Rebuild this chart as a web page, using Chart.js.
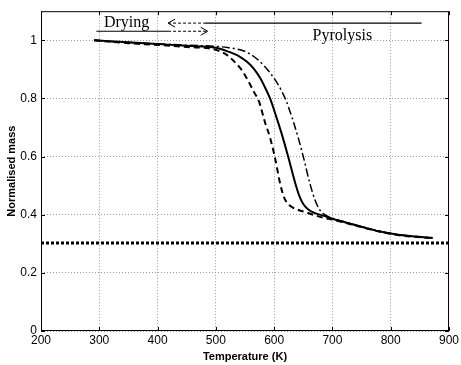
<!DOCTYPE html>
<html>
<head>
<meta charset="utf-8">
<script src="https://cdn.jsdelivr.net/npm/chart.js@4.4.0/dist/chart.umd.min.js"></script>
<style>
  html, body { margin: 0; padding: 0; background: #fff; overflow: hidden; }
  #wrap { width: 461px; height: 365px; }
</style>
</head>
<body>
<div id="wrap"><canvas id="grafico"></canvas></div>
<script>
// Curva central (linha cheia)
const solidT = [291, 350, 400, 450, 500, 520, 540, 554, 566, 576, 585, 593, 604, 613, 624, 636, 643, 650, 658, 668, 684, 700, 720, 740, 760, 780, 800, 820, 840, 860, 872];
const solidMass = [1.0, 0.993, 0.987, 0.981, 0.974, 0.962, 0.945, 0.925, 0.9, 0.87, 0.835, 0.8, 0.735, 0.678, 0.6, 0.51, 0.466, 0.437, 0.419, 0.407, 0.397, 0.386, 0.375, 0.364, 0.353, 0.343, 0.335, 0.329, 0.325, 0.322, 0.32];

// Curva tracejada (esquerda)
const dashedT = [291, 350, 400, 450, 500, 520, 530, 542, 550, 559, 566, 574, 584, 593, 601, 610, 616, 622, 630, 642, 655, 670, 684, 700, 720, 740, 760, 780, 800, 820, 840, 860, 872];
const dashedMass = [1.0, 0.99, 0.984, 0.977, 0.967, 0.948, 0.93, 0.904, 0.88, 0.847, 0.82, 0.79, 0.72, 0.665, 0.6, 0.51, 0.465, 0.441, 0.427, 0.416, 0.408, 0.398, 0.39, 0.383, 0.373, 0.363, 0.352, 0.342, 0.334, 0.328, 0.324, 0.321, 0.319];

// Curva traço-ponto (direita)
const dashDotT = [291, 350, 400, 450, 500, 520, 540, 554, 568, 582, 593, 604, 613, 621, 627, 633, 642, 650, 661, 669, 676, 684, 700, 720, 740, 760, 780, 800, 820, 840, 860, 872];
const dashDotMass = [1.0, 0.992, 0.988, 0.983, 0.979, 0.975, 0.968, 0.958, 0.94, 0.914, 0.888, 0.857, 0.825, 0.79, 0.756, 0.72, 0.66, 0.6, 0.51, 0.457, 0.424, 0.404, 0.388, 0.376, 0.365, 0.354, 0.344, 0.336, 0.33, 0.326, 0.323, 0.321];

// Assintota pontilhada
const asymptoteT = [200, 900];
const asymptoteMass = [0.303, 0.303];

// Setas Drying / Pyrolysis
const dryingSolidT = [295, 418];
const dryingDashT = [418, 486];
const dryingLevel = 1.031;
const pyroDashT = [418, 481];
const pyroSolidT = [481, 853];
const pyroLevel = 1.059;

// Textos
const dryingLabel = { text: "Drying", t: 308, m: 1.046 };
const pyroLabel = { text: "Pyrolysis", t: 666, m: 1.002 };

// Eixos
const xTicks = [200, 300, 400, 500, 600, 700, 800, 900];
const yTicks = [0, 0.2, 0.4, 0.6, 0.8, 1];

const pares = (xs, ys) => xs.map((x, i) => ({ x: x, y: Array.isArray(ys) ? ys[i] : ys }));

function serie(data, dash, largura) {
  return {
    data: data,
    borderColor: '#000',
    borderWidth: largura,
    borderDash: dash,
    pointRadius: 0,
    fill: false,
    cubicInterpolationMode: 'monotone'
  };
}

// Moldura, ticks internos, pontas de seta e textos
const moldura = {
  id: 'moldura',
  afterDatasetsDraw(chart) {
    const { ctx, chartArea: a, scales: { x, y } } = chart;
    ctx.save();
    ctx.strokeStyle = '#000';
    ctx.lineWidth = 1;
    ctx.strokeRect(a.left + 0.5, a.top + 0.5, a.right - a.left - 1, a.bottom - a.top - 1);

    const linha = (x1, y1, x2, y2) => { ctx.beginPath(); ctx.moveTo(x1, y1); ctx.lineTo(x2, y2); ctx.stroke(); };
    xTicks.forEach(v => {
      const p = Math.round(x.getPixelForValue(v)) + 0.5;
      linha(p, a.bottom, p, a.bottom - 4);
      linha(p, a.top, p, a.top + 4);
    });
    yTicks.forEach(v => {
      const p = Math.round(y.getPixelForValue(v)) + 0.5;
      linha(a.left, p, a.left + 4, p);
      linha(a.right, p, a.right - 4, p);
    });

    // pontas das setas
    const dx = x.getPixelForValue(dryingDashT[1]);
    const dy = y.getPixelForValue(dryingLevel);
    linha(dx, dy, dx - 7, dy - 4);
    linha(dx, dy, dx - 7, dy + 4);
    const px = x.getPixelForValue(pyroDashT[0]);
    const py = y.getPixelForValue(pyroLevel);
    linha(px, py, px + 7, py - 4);
    linha(px, py, px + 7, py + 4);

    ctx.fillStyle = '#000';
    ctx.font = '16px "Liberation Serif", "Times New Roman", serif';
    ctx.textAlign = 'left';
    ctx.textBaseline = 'alphabetic';
    [dryingLabel, pyroLabel].forEach(l => {
      ctx.fillText(l.text, x.getPixelForValue(l.t), y.getPixelForValue(l.m));
    });
    ctx.restore();
  }
};

const gradeCor = '#9a9a9a';

new Chart(document.getElementById('grafico'), {
  type: 'line',
  data: {
    datasets: [
      serie(pares(solidT, solidMass), [], 2),
      serie(pares(dashedT, dashedMass), [6, 4], 2),
      serie(pares(dashDotT, dashDotMass), [8, 3, 2, 3], 1.5),
      { ...serie(pares(asymptoteT, asymptoteMass), [3, 2], 3), cubicInterpolationMode: 'default' },
      serie(pares(dryingSolidT, dryingLevel), [], 1.2),
      serie(pares(dryingDashT, dryingLevel), [3, 2], 1),
      serie(pares(pyroDashT, pyroLevel), [3, 2], 1),
      serie(pares(pyroSolidT, pyroLevel), [], 1.2)
    ]
  },
  options: {
    responsive: true,
    maintainAspectRatio: false,
    animation: false,
    layout: { padding: { top: 5, right: 6, left: 0, bottom: 0 } },
    plugins: { legend: { display: false }, tooltip: { enabled: false } },
    scales: {
      x: {
        type: 'linear',
        min: 200,
        max: 900,
        afterBuildTicks: s => { s.ticks = xTicks.map(v => ({ value: v })); },
        afterFit: s => { s.height = 34; },
        ticks: {
          color: '#000',
          padding: 2,
          maxRotation: 0,
          font: { family: '"Liberation Sans", Arial, sans-serif', size: 12 },
          callback: v => String(v)
        },
        grid: { color: gradeCor, drawTicks: false, lineWidth: 1 },
        border: { display: false, dash: [1, 2] },
        title: {
          display: true,
          text: 'Temperature (K)',
          color: '#000',
          padding: { top: 0, bottom: 1 },
          font: { family: '"Liberation Sans", Arial, sans-serif', size: 11, weight: 'bold' }
        }
      },
      y: {
        min: 0,
        max: 1.1,
        afterBuildTicks: s => { s.ticks = yTicks.map(v => ({ value: v })); },
        afterFit: s => { s.width = 41; },
        ticks: {
          color: '#000',
          padding: 4,
          font: { family: '"Liberation Sans", Arial, sans-serif', size: 12 },
          callback: v => String(Math.round(v * 10) / 10)
        },
        grid: { color: gradeCor, drawTicks: false, lineWidth: 1 },
        border: { display: false, dash: [1, 2] },
        title: {
          display: true,
          text: 'Normalised mass',
          color: '#000',
          padding: { top: 5, bottom: 0 },
          font: { family: '"Liberation Sans", Arial, sans-serif', size: 11, weight: 'bold' }
        }
      }
    }
  },
  plugins: [moldura]
});
</script>
</body>
</html>
